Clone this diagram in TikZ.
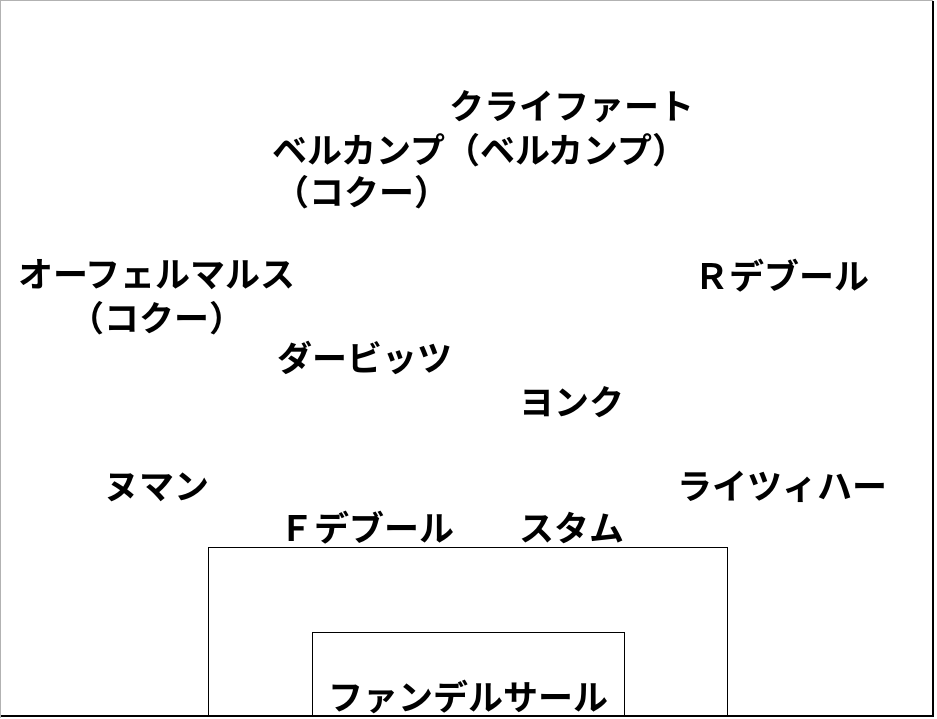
\documentclass[tikz,border=0pt]{standalone}
\usepackage{fontspec}
\setmainfont{Noto Sans CJK JP}[BoldFont={* Bold}]
\begin{document}
\begin{tikzpicture}[x=1pt,y=-1pt,
  pl/.style={font=\fontsize{35}{40}\selectfont\bfseries, inner sep=0pt, align=center}]
\useasboundingbox (0,0) rectangle (937,718);
\fill[white] (0,0) rectangle (937,718);
\draw[gray!60, line width=1pt] (0.5,718) -- (0.5,0.5) -- (933,0.5);
\draw[black, line width=2pt] (1,716) -- (933,716) -- (933,0.5);
\draw[line width=1pt] (208,716) -- (208,547) -- (727,547) -- (727,716);
\draw[line width=1pt] (312,716) -- (312,632) -- (624,632) -- (624,716);
\node[pl] (kl) at (572,107) {クライファート};
\node[pl] (be) at (480,150) {ベルカンプ（ベルカンプ）};
\node[pl] (co1) at (362,192) {（コクー）};
\node[pl] (ov) at (157,275) {オーフェルマルス};
\node[pl] (co2) at (157,318) {（コクー）};
\node[pl] (rd) at (782,276) {Ｒデブール};
\node[pl] (da) at (365,358) {ダービッツ};
\node[pl] (jo) at (572,402) {ヨンク};
\node[pl] (nu) at (157,487) {ヌマン};
\node[pl] (re) at (782,487) {ライツィハー};
\node[pl] (fd) at (367,528) {Ｆデブール};
\node[pl] (st) at (572,528) {スタム};
\node[pl] (vs) at (468,697) {ファンデルサール};
\end{tikzpicture}
\end{document}
